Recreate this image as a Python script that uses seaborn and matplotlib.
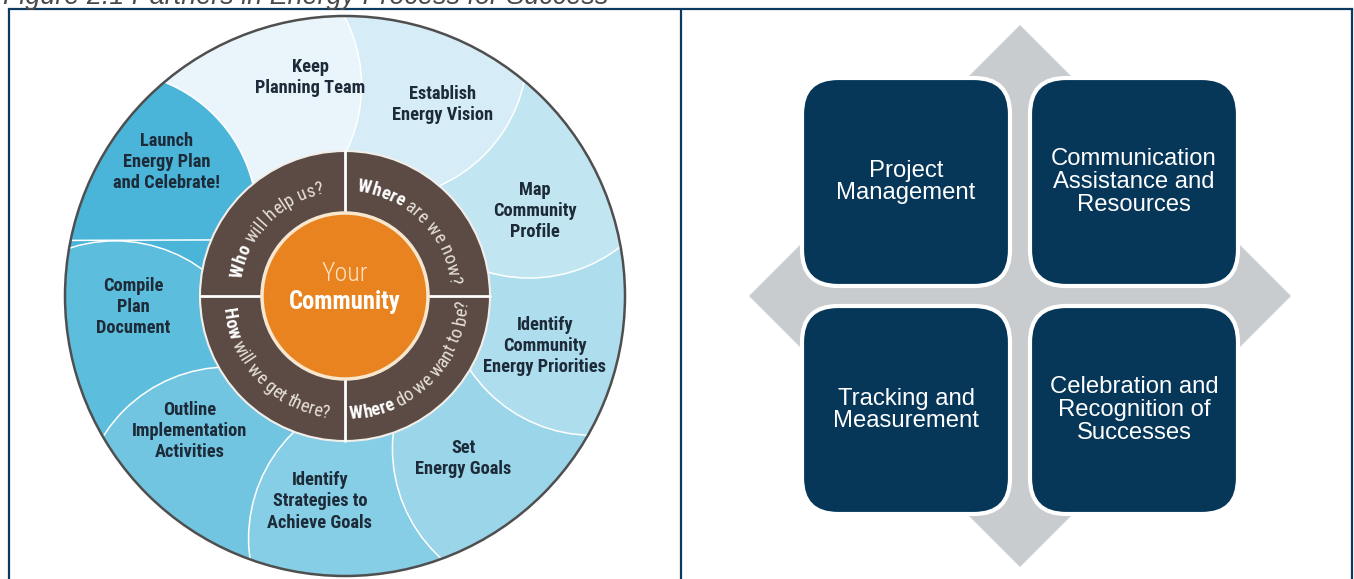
import numpy as np
import matplotlib
matplotlib.use("Agg")
import matplotlib.pyplot as plt
from matplotlib.patches import Circle, Polygon, FancyBboxPatch
from matplotlib.font_manager import FontProperties
from matplotlib.textpath import TextToPath
import seaborn as sns

# texts of the figure
TITLE = "Figure 2.1 Partners in Energy Process for Success"

STEPS = ["Keep\nPlanning Team", "Establish\nEnergy Vision", "Map\nCommunity\nProfile",
         "Identify\nCommunity\nEnergy Priorities", "Set\nEnergy Goals",
         "Identify\nStrategies to\nAchieve Goals", "Outline\nImplementation\nActivities",
         "Compile\nPlan\nDocument", "Launch\nEnergy Plan\nand Celebrate!"]
# label placement on the wheel (deg, px from centre)
STEP_ANGLES = [99, 63, 24, -14, -54, -97, -139, 183, 143]
STEP_RADII = [221, 215, 208, 206, 201, 207, 206, 212, 223]

QUESTIONS = [("Who", " will help us?"), ("Where", " are we now?"),
             ("Where", " do we want to be?"), ("How", " will we get there?")]
QUESTION_ANGLES = [136, 45, -45, -136]

CORE_TOP = "Your"
CORE_BOTTOM = "Community"

ROLES = ["Project\nManagement", "Communication\nAssistance and\nResources",
         "Tracking and\nMeasurement", "Celebration and\nRecognition of\nSuccesses"]

sns.set_theme(style="white")
NARROW = ["Roboto Condensed", "Liberation Sans Narrow", "Liberation Sans", "DejaVu Sans"]
ARIAL = ["Liberation Sans", "DejaVu Sans"]
plt.rcParams["font.family"] = ARIAL

W, H = 1354, 579
PX = 100 / 72  # px per point

fig = plt.figure(figsize=(W / 100, H / 100), dpi=100)
ax = fig.add_axes([0, 0, 1, 1])
ax.set_xlim(0, W)
ax.set_ylim(H, 0)
ax.axis("off")

ttp = TextToPath()


def width_px(s, prop):
    return ttp.get_text_width_height_descent(s, prop, ismath=False)[0] * PX


def advance(ch, prop):
    return width_px("|" + ch + "|", prop) - width_px("||", prop)


def fit_size(s, target, **kw):
    # font size that makes string s about target px wide
    prop = FontProperties(size=10, **kw)
    return 10 * target / width_px(s, prop)


# ---------------- left panel: the wheel ----------------
CX, CY = 345, 296
R_OUT, R_RING, R_CORE = 280, 145, 83
SC_D, SC_R, SC_SHIFT = 248, 148, 22


def polar(r, a, cx=CX, cy=CY):
    t = np.deg2rad(a)
    return cx + r * np.cos(t), cy - r * np.sin(t)


colors = sns.blend_palette(["#eaf5fb", "#4ab5d9"], len(STEPS))
base_angles = [100 - 40 * i for i in range(len(STEPS))]
centres = [polar(SC_D, a + SC_SHIFT) for a in base_angles]

outer = Circle((CX, CY), R_OUT, facecolor=colors[4], edgecolor="none", zorder=1)
ax.add_patch(outer)

# each scallop sits on top of its clockwise neighbour
for i in reversed(range(len(STEPS))):
    c = Circle(centres[i], SC_R, facecolor=colors[i], edgecolor="white",
               lw=1.1, zorder=2)
    ax.add_patch(c)
    c.set_clip_path(outer)

# close the cycle: last scallop over the first one (upper part only)
t = np.linspace(0, 2 * np.pi, 500)
lx = centres[-1][0] + SC_R * np.cos(t)
ly = centres[-1][1] + SC_R * np.sin(t)
limit = centres[-2][1] - SC_R
p = Polygon(np.column_stack([lx, np.minimum(ly, limit)]), closed=True,
            facecolor=colors[-1], edgecolor="none", zorder=2)
ax.add_patch(p)
p.set_clip_path(outer)
keep = ly < limit
ln, = ax.plot(lx[keep], ly[keep], color="white", lw=1.1, zorder=2)
ln.set_clip_path(outer)

step_size = fit_size("Planning Team", 110, family=NARROW, weight="bold")
for txt, a, r in zip(STEPS, STEP_ANGLES, STEP_RADII):
    x, y = polar(r, a)
    ax.text(x, y, txt, ha="center", va="center", multialignment="center",
            family=NARROW, weight="bold", fontsize=step_size, color="#1d2a38",
            linespacing=1.22, zorder=7)

ax.add_patch(Circle((CX, CY), R_RING, facecolor="#5c4b44", edgecolor="#f2eeea",
                    lw=1.5, zorder=3))
ax.plot([CX, CX], [CY - R_RING, CY + R_RING], color="white", lw=2, zorder=4)
ax.plot([CX - R_RING, CX + R_RING], [CY, CY], color="white", lw=2, zorder=4)
ax.add_patch(Circle((CX, CY), R_CORE, facecolor="#e8831f", edgecolor="#f8e6cf",
                    lw=2.5, zorder=5))
ax.add_patch(Circle((CX, CY), R_OUT, fill=False, edgecolor="#4f4f4f", lw=1.8, zorder=6))

core_size = fit_size(CORE_BOTTOM, 112, family=NARROW, weight="bold")
ax.text(CX, CY - 22, CORE_TOP, ha="center", va="center", family=NARROW,
        weight="light", fontsize=core_size * 1.05, color="#fde2c2", zorder=7)
ax.text(CX, CY + 6, CORE_BOTTOM, ha="center", va="center", family=NARROW,
        weight="bold", fontsize=core_size, color="white", zorder=7)

ring_size = 10 * 142 / (width_px("Where", FontProperties(family=NARROW, weight="bold", size=10))
                        + width_px(" are we now?", FontProperties(family=NARROW, size=10)))


def curved_text(parts, mid, upper, size):
    chars = []
    for s, weight, color in parts:
        prop = FontProperties(family=NARROW, weight=weight, size=size)
        for ch in s:
            chars.append((ch, weight, color, advance(ch, prop)))
    total = sum(c[3] for c in chars)
    radius = 105 if upper else 123
    sign = -1 if upper else 1
    start = mid - sign * np.rad2deg(total / 2 / radius)
    pos = 0.0
    for ch, weight, color, adv in chars:
        a = start + sign * np.rad2deg((pos + adv / 2) / radius)
        x, y = polar(radius, a)
        rot = a - 90 if upper else a + 90
        ax.text(x, y, ch, rotation=rot, rotation_mode="anchor", ha="center",
                va="baseline", family=NARROW, weight=weight, fontsize=size,
                color=color, zorder=7)
        pos += adv


for (first, rest), a in zip(QUESTIONS, QUESTION_ANGLES):
    curved_text([(first, "bold", "white"), (rest, "normal", "#e6dfda")], a, a > 0, ring_size)

# ---------------- right panel: partner roles ----------------
RCX, RCY = 1020, 296
HALF = 271
ax.add_patch(Polygon([(RCX, RCY - HALF), (RCX + HALF, RCY), (RCX, RCY + HALF),
                      (RCX - HALF, RCY)], closed=True, facecolor="#c9cccf",
                     edgecolor="none", zorder=1))
BOX, GAP = 208, 20
for k, role in enumerate(ROLES):
    col, row = k % 2, k // 2
    x0 = RCX - GAP / 2 - BOX + col * (BOX + GAP)
    y0 = RCY - GAP / 2 - BOX + row * (BOX + GAP)
    ax.add_patch(FancyBboxPatch((x0, y0), BOX, BOX,
                                boxstyle="round,pad=0,rounding_size=36",
                                facecolor="#063658", edgecolor="white", lw=3, zorder=2))
    ax.text(x0 + BOX / 2, y0 + BOX / 2, role, ha="center", va="center",
            multialignment="center", fontsize=17.2, color="white",
            linespacing=1.05, zorder=3)

# ---------------- table frame and caption ----------------
NAVY = "#0b3a5e"
ax.plot([9, 1352], [9, 9], color=NAVY, lw=1.6, solid_capstyle="projecting", zorder=8)
for xv in (9, 681, 1352):
    ax.plot([xv, xv], [9, H + 5], color=NAVY, lw=1.6, zorder=8)

tsize = fit_size(TITLE, 603, family=ARIAL, style="italic")
ax.text(3, 4, TITLE, ha="left", va="baseline", style="italic", color="#4a4a4a",
        fontsize=tsize, zorder=8)

fig.savefig("out.png", dpi=100)
